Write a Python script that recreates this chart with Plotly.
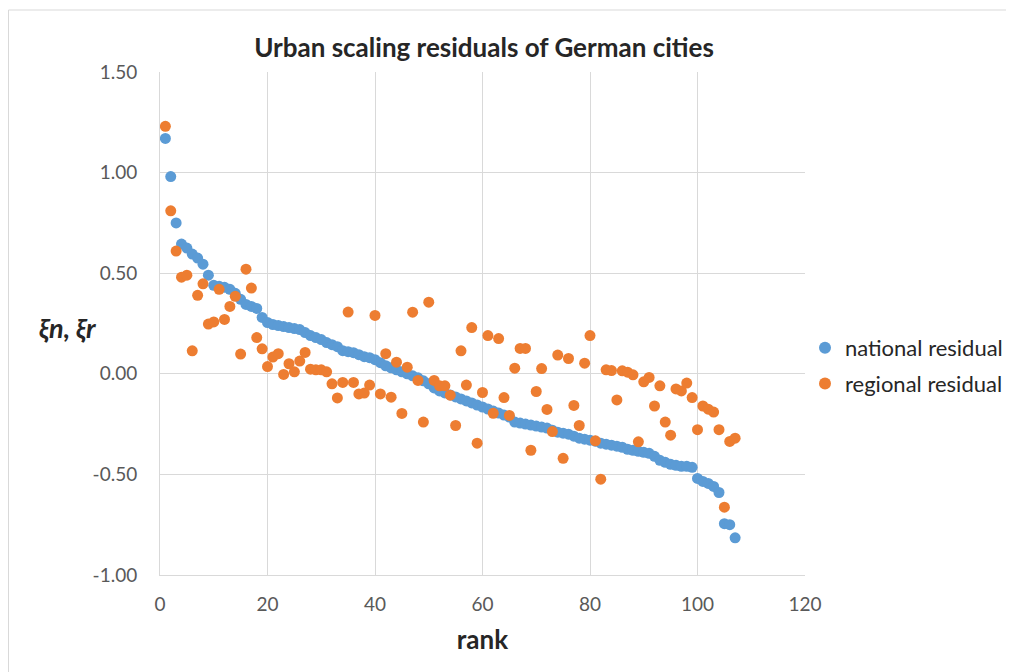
import plotly.graph_objects as go

rank = list(range(1, 108))

national_residual = [
    1.17, 0.98, 0.75, 0.645, 0.625, 0.595, 0.575, 0.545, 0.49, 0.44,
    0.435, 0.43, 0.42, 0.40, 0.37, 0.345, 0.335, 0.325, 0.28, 0.255,
    0.245, 0.24, 0.235, 0.23, 0.225, 0.22, 0.205, 0.19, 0.18, 0.17,
    0.155, 0.145, 0.135, 0.115, 0.11, 0.105, 0.095, 0.085, 0.08, 0.07,
    0.055, 0.04, 0.03, 0.02, 0.01, 0.0, -0.01, -0.02, -0.035, -0.05,
    -0.07, -0.085, -0.095, -0.105, -0.115, -0.125, -0.135, -0.145, -0.155, -0.165,
    -0.175, -0.185, -0.195, -0.205, -0.215, -0.24, -0.245, -0.25, -0.255, -0.26,
    -0.265, -0.27, -0.28, -0.29, -0.295, -0.30, -0.31, -0.32, -0.325, -0.33,
    -0.335, -0.345, -0.35, -0.355, -0.36, -0.365, -0.375, -0.38, -0.385, -0.39,
    -0.395, -0.41, -0.43, -0.44, -0.45, -0.455, -0.46, -0.46, -0.465, -0.52,
    -0.535, -0.545, -0.56, -0.59, -0.745, -0.75, -0.815,
]

regional_residual = [
    1.23, 0.81, 0.61, 0.48, 0.49, 0.114, 0.39, 0.447, 0.247, 0.258,
    0.42, 0.27, 0.335, 0.385, 0.098, 0.52, 0.426, 0.18, 0.124, 0.036,
    0.083, 0.10, -0.003, 0.05, 0.01, 0.063, 0.106, 0.023, 0.02, 0.02,
    0.01, -0.05, -0.12, -0.043, 0.307, -0.043, -0.10, -0.096, -0.056, 0.29,
    -0.10, 0.10, -0.116, 0.058, -0.197, 0.033, 0.306, -0.033, -0.24, 0.356,
    -0.033, -0.06, -0.06, -0.106, -0.257, 0.114, -0.056, 0.23, -0.345, -0.093,
    0.19, -0.196, 0.175, -0.118, -0.207, 0.028, 0.126, 0.126, -0.38, -0.088,
    0.026, -0.177, -0.287, 0.093, -0.42, 0.076, -0.157, -0.257, 0.053, 0.19,
    -0.333, -0.524, 0.02, 0.016, -0.13, 0.015, 0.008, -0.005, -0.338, -0.04,
    -0.018, -0.16, -0.06, -0.24, -0.305, -0.075, -0.085, -0.046, -0.118, -0.278,
    -0.16, -0.176, -0.19, -0.278, -0.663, -0.336, -0.32,
]

x_ticks = [0, 20, 40, 60, 80, 100, 120]
y_ticks = [1.5, 1.0, 0.5, 0.0, -0.5, -1.0]
y_tick_labels = ["1.50", "1.00", "0.50", "0.00", "-0.50", "-1.00"]

FONT = "Lato, 'Open Sans', sans-serif"
GRID = "#d9d9d9"
TXT = "#595959"

# page pixel -> paper coords (plot area spans page x 160..805, y 72..575)
def px(p):
    return (p - 160) / 645

def py(p):
    return (575 - p) / 503

fig = go.Figure()
fig.add_trace(go.Scatter(
    x=rank, y=national_residual, mode="markers", name="national residual",
    marker=dict(color="#5B9BD5", size=11, line=dict(width=0)),
    legendgroup="a",
))
fig.add_trace(go.Scatter(
    x=rank, y=regional_residual, mode="markers", name="regional residual",
    marker=dict(color="#ED7D31", size=11, line=dict(width=0)),
    legendgroup="b",
))

fig.update_layout(
    width=1014, height=672,
    margin=dict(l=152, r=217, t=64, b=105, autoexpand=False),
    paper_bgcolor="white", plot_bgcolor="white",
    font=dict(family=FONT, color=TXT),
    title=dict(
        text="<b>Urban scaling residuals of German cities</b>",
        x=(484 - 8) / 1014, xanchor="center",
        y=1 - (48 - 8) / 672, yanchor="middle", yref="container",
        font=dict(size=26, color="#262626", family=FONT),
    ),
    xaxis=dict(
        range=[0, 120], tickvals=x_ticks, ticktext=[str(v) for v in x_ticks],
        showgrid=True, gridcolor=GRID, gridwidth=1,
        showline=True, linecolor=GRID, linewidth=1,
        zeroline=False, ticks="",
        tickfont=dict(size=19, color=TXT),
        ticklabelstandoff=12,
        title=dict(text="<b>rank</b>", font=dict(size=26, color="#262626"), standoff=17),
    ),
    yaxis=dict(
        range=[-1.0, 1.5], tickvals=y_ticks, ticktext=y_tick_labels,
        showgrid=True, gridcolor=GRID, gridwidth=1,
        showline=True, linecolor=GRID, linewidth=1,
        zeroline=False, ticks="",
        tickfont=dict(size=19, color=TXT),
        ticklabelstandoff=18,
    ),
    legend=dict(
        x=px(805), xanchor="left",
        y=py(327), yanchor="top",
        font=dict(size=22, color="#262626"),
        bgcolor="rgba(0,0,0,0)",
        traceorder="grouped", tracegroupgap=4,
        itemsizing="constant",
    ),
    annotations=[dict(
        text="<b><i>ξn, ξr</i></b>",
        xref="paper", yref="paper",
        x=px(68), y=py(327),
        xanchor="center", yanchor="middle",
        showarrow=False, font=dict(size=27, color="#262626"),
    )],
    shapes=[dict(
        type="rect", xref="paper", yref="paper",
        x0=px(8.5), x1=px(1040),
        y0=py(690), y1=py(10),
        line=dict(color="#d9d9d9", width=1), fillcolor="rgba(0,0,0,0)",
        layer="below",
    )],
)

fig.write_html("out.html")
